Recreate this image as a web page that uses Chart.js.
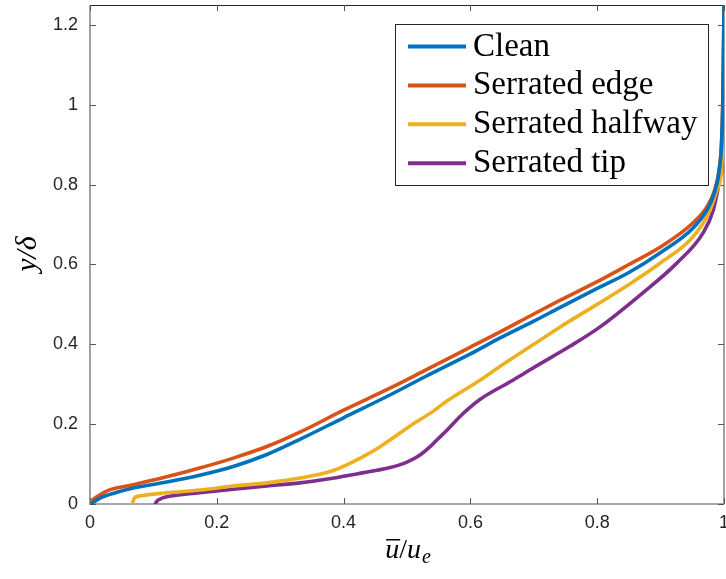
<!DOCTYPE html>
<html>
<head>
<meta charset="utf-8">
<script src="https://cdn.jsdelivr.net/npm/chart.js@4.4.1/dist/chart.umd.min.js"></script>
<style>
  html, body { margin: 0; padding: 0; background: #fff; }
  #wrap { width: 726px; height: 579px; position: relative; }
</style>
</head>
<body>
<div id="wrap"><canvas id="profiles"></canvas></div>
<script>
const seriesLabels = ['Clean', 'Serrated edge', 'Serrated halfway', 'Serrated tip']
const seriesColors = ['#0072BD', '#D95319', '#EDB120', '#7E2F8E']

// u / u_e  and  y / delta
const cleanU = [0.002, 0.006, 0.016, 0.04, 0.068, 0.121, 0.173, 0.226, 0.279, 0.331, 0.4, 0.473, 0.53, 0.6, 0.647, 0.7, 0.741, 0.8, 0.85, 0.899, 0.951, 0.973, 0.985, 0.992, 0.996, 0.998, 0.999, 1.0]
const cleanY = [0, 0.005, 0.015, 0.028, 0.04, 0.055, 0.072, 0.094, 0.124, 0.162, 0.216, 0.273, 0.32, 0.376, 0.416, 0.458, 0.492, 0.54, 0.58, 0.629, 0.691, 0.736, 0.78, 0.83, 0.9, 1.0, 1.1, 1.25]

const edgeU = [0, 0.003, 0.011, 0.027, 0.068, 0.121, 0.173, 0.226, 0.279, 0.331, 0.4, 0.473, 0.53, 0.6, 0.647, 0.7, 0.741, 0.8, 0.85, 0.899, 0.951, 0.973, 0.985, 0.992, 0.996, 0.998, 0.999, 1.0]
const edgeY = [0, 0.008, 0.018, 0.033, 0.048, 0.068, 0.09, 0.115, 0.144, 0.18, 0.235, 0.29, 0.336, 0.393, 0.431, 0.476, 0.51, 0.557, 0.6, 0.643, 0.704, 0.744, 0.785, 0.835, 0.9, 1.0, 1.1, 1.25]

const halfwayU = [0.067, 0.068, 0.07, 0.078, 0.121, 0.173, 0.226, 0.279, 0.331, 0.38, 0.405, 0.43, 0.457, 0.509, 0.541, 0.563, 0.615, 0.647, 0.7, 0.741, 0.8, 0.85, 0.899, 0.951, 0.978, 0.989, 0.997, 0.999, 1.0]
const halfwayY = [0, 0.006, 0.015, 0.02, 0.028, 0.035, 0.045, 0.053, 0.065, 0.082, 0.098, 0.118, 0.143, 0.2, 0.232, 0.258, 0.31, 0.345, 0.4, 0.443, 0.5, 0.55, 0.603, 0.669, 0.736, 0.787, 0.862, 1.0, 1.25]

const tipU = [0.103, 0.105, 0.11, 0.121, 0.173, 0.226, 0.279, 0.331, 0.38, 0.43, 0.47, 0.5, 0.52, 0.536, 0.55, 0.563, 0.588, 0.615, 0.667, 0.7, 0.757, 0.804, 0.872, 0.926, 0.967, 0.983, 0.994, 0.998, 0.999, 1.0]
const tipY = [0, 0.006, 0.012, 0.018, 0.028, 0.037, 0.045, 0.053, 0.064, 0.078, 0.09, 0.105, 0.122, 0.143, 0.165, 0.185, 0.226, 0.262, 0.31, 0.342, 0.395, 0.443, 0.529, 0.604, 0.679, 0.736, 0.819, 0.87, 0.95, 1.25]

const xTicks = [0, 0.2, 0.4, 0.6, 0.8, 1]
const yTicks = [0, 0.2, 0.4, 0.6, 0.8, 1, 1.2]

const seriesU = [cleanU, edgeU, halfwayU, tipU]
const seriesY = [cleanY, edgeY, halfwayY, tipY]

const AXIS_GREY = '#8a8a8a'
const TEXT_DARK = '#262626'

const datasets = seriesLabels.map((label, i) => ({
  label,
  data: seriesU[i].map((u, k) => ({ x: u, y: seriesY[i][k] })),
  borderColor: seriesColors[i],
  backgroundColor: seriesColors[i],
  borderWidth: 3.6,
  showLine: true,
  pointRadius: 0,
  cubicInterpolationMode: 'monotone',
  borderCapStyle: 'round',
  borderJoinStyle: 'round'
}))

// MATLAB style box with inward ticks on all four sides
const framePlugin = {
  id: 'frame',
  beforeDatasetsDraw (chart) {
    const { ctx, chartArea: a, scales } = chart
    ctx.save()
    ctx.strokeStyle = AXIS_GREY
    ctx.lineWidth = 1.6
    ctx.beginPath()
    ctx.moveTo(a.left, a.top); ctx.lineTo(a.left, a.bottom); ctx.lineTo(a.right, a.bottom)
    ctx.moveTo(a.right, a.top); ctx.lineTo(a.right, a.bottom)
    ctx.stroke()
    ctx.strokeStyle = TEXT_DARK
    ctx.lineWidth = 1
    ctx.beginPath()
    ctx.moveTo(a.left, a.top + 0.5); ctx.lineTo(a.right, a.top + 0.5)
    ctx.stroke()
    ctx.strokeStyle = '#555'
    ctx.lineWidth = 1
    ctx.beginPath()
    const tl = 6
    xTicks.forEach(v => {
      const x = Math.round(scales.x.getPixelForValue(v)) + 0.5
      ctx.moveTo(x, a.bottom); ctx.lineTo(x, a.bottom - tl)
      ctx.moveTo(x, a.top); ctx.lineTo(x, a.top + tl)
    })
    yTicks.forEach(v => {
      const y = Math.round(scales.y.getPixelForValue(v)) + 0.5
      ctx.moveTo(a.left, y); ctx.lineTo(a.left + tl, y)
      ctx.moveTo(a.right, y); ctx.lineTo(a.right - tl, y)
    })
    ctx.stroke()
    ctx.restore()
  },
  afterDraw (chart) {
    const { ctx } = chart
    ctx.save()
    // legend box
    ctx.fillStyle = '#fff'
    ctx.fillRect(395.5, 24.5, 313, 161)
    ctx.strokeStyle = TEXT_DARK
    ctx.lineWidth = 1
    ctx.strokeRect(395.5, 24.5, 313, 161)
    ctx.font = '33px "Liberation Serif"'
    ctx.textBaseline = 'alphabetic'
    ctx.textAlign = 'left'
    chart.data.datasets.forEach((ds, i) => {
      const ly = 46.5 + i * 38.9
      ctx.strokeStyle = ds.borderColor
      ctx.lineWidth = 4
      ctx.beginPath()
      ctx.moveTo(408, ly); ctx.lineTo(466, ly)
      ctx.stroke()
      ctx.fillStyle = '#000'
      ctx.fillText(ds.label, 473, ly + 9)
    })

    // y axis title
    ctx.fillStyle = '#000'
    ctx.save()
    ctx.translate(28, 254)
    ctx.rotate(-Math.PI / 2)
    ctx.textAlign = 'center'
    ctx.textBaseline = 'middle'
    ctx.font = 'italic 30px "Liberation Serif"'
    ctx.fillText('y/δ', 0, 0)
    ctx.restore()

    // x axis title: overline u / u_e
    const base = 558
    const fMain = 'italic 28px "Liberation Serif"'
    const fSlash = '28px "Liberation Serif"'
    const fSub = 'italic 20px "Liberation Serif"'
    ctx.textAlign = 'left'
    ctx.textBaseline = 'alphabetic'
    ctx.font = fMain
    const wu = ctx.measureText('u').width
    ctx.font = fSlash
    const ws = ctx.measureText('/').width
    ctx.font = fSub
    const we = ctx.measureText('e').width
    const total = wu + ws + wu + we + 1
    let x = 408 - total / 2
    ctx.font = fMain
    ctx.fillText('u', x, base)
    ctx.fillRect(x + 1, base - 19, wu, 1.5)
    x += wu
    ctx.font = fSlash
    ctx.fillText('/', x, base)
    x += ws
    ctx.font = fMain
    ctx.fillText('u', x, base)
    x += wu + 1
    ctx.font = fSub
    ctx.fillText('e', x, base + 5)
    ctx.restore()
  }
}

Chart.defaults.font.family = '"Liberation Sans", Arial, sans-serif'
Chart.defaults.color = TEXT_DARK

const tickLabel = v => String(Math.round(v * 10) / 10)

const config = {
  type: 'scatter',
  data: { datasets },
  options: {
    responsive: true,
    maintainAspectRatio: false,
    animation: false,
    layout: { padding: { top: 5, right: 2, left: 0, bottom: 0 } },
    scales: {
      x: {
        type: 'linear',
        min: 0,
        max: 1,
        afterBuildTicks: s => { s.ticks = xTicks.map(value => ({ value })) },
        afterFit: s => { s.height = 75; s.paddingLeft = 0; s.paddingRight = 0 },
        grid: { display: false, drawTicks: false },
        border: { display: false },
        ticks: { padding: 8, font: { size: 18 }, color: TEXT_DARK, maxRotation: 0, callback: tickLabel }
      },
      y: {
        type: 'linear',
        min: 0,
        max: 1.25,
        afterBuildTicks: s => { s.ticks = yTicks.map(value => ({ value })) },
        afterFit: s => { s.width = 90; s.paddingTop = 0; s.paddingBottom = 0 },
        grid: { display: false, drawTicks: false },
        border: { display: false },
        ticks: { padding: 12, font: { size: 18 }, color: TEXT_DARK, callback: tickLabel }
      }
    },
    plugins: {
      legend: { display: false },
      tooltip: { enabled: false }
    }
  },
  plugins: [framePlugin]
}

const ctx = document.getElementById('profiles').getContext('2d')
new Chart(ctx, config) // eslint-disable-line
</script>
</body>
</html>
